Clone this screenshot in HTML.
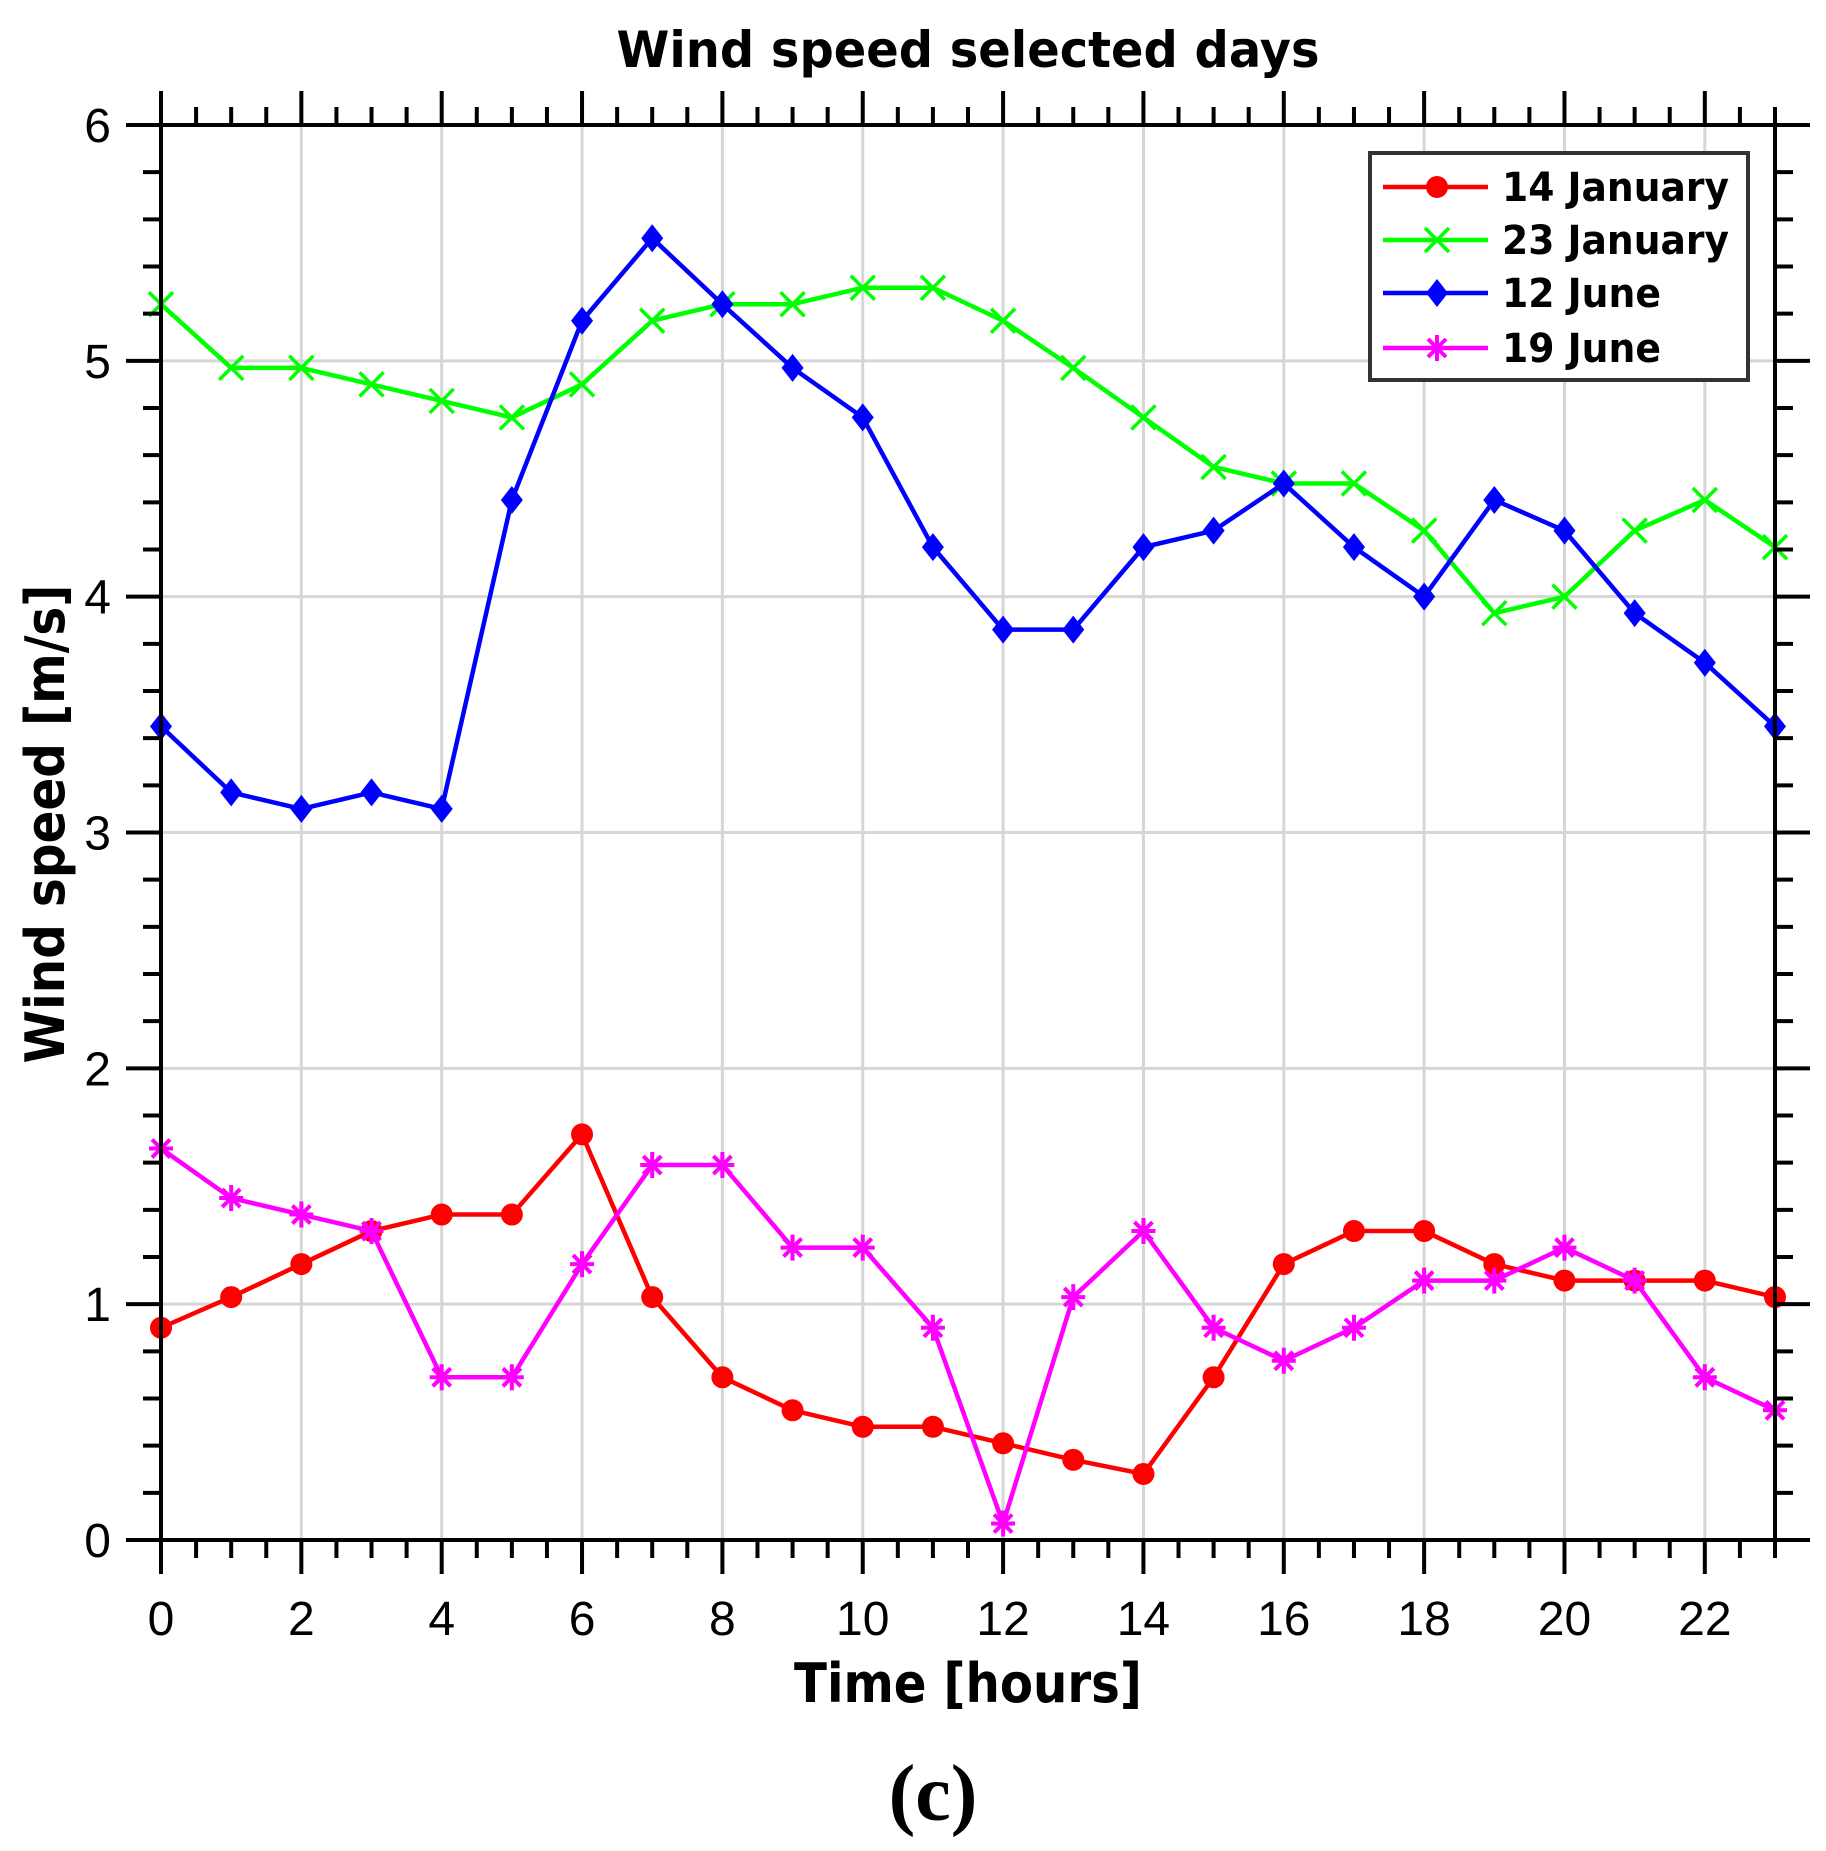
<!DOCTYPE html>
<html><head><meta charset="utf-8"><style>html,body{margin:0;padding:0;background:#fff}svg{display:block}</style></head>
<body>
<svg id="chart" xmlns="http://www.w3.org/2000/svg" width="1826" height="1851" viewBox="0 0 1826 1851">
<rect width="1826" height="1851" fill="#fff"/>
<g id="grid"></g>
<g id="series"></g>
<g id="axes"></g>
<text x="968" y="67" text-anchor="middle" font-family="DejaVu Sans, Liberation Sans, sans-serif" font-weight="bold" font-size="50" textLength="703" lengthAdjust="spacingAndGlyphs">Wind speed selected days</text>
<text x="968" y="1702" text-anchor="middle" font-family="DejaVu Sans, Liberation Sans, sans-serif" font-weight="bold" font-size="54" textLength="348" lengthAdjust="spacingAndGlyphs">Time [hours]</text>
<text transform="translate(64,824) rotate(-90)" text-anchor="middle" font-family="DejaVu Sans, Liberation Sans, sans-serif" font-weight="bold" font-size="54" textLength="479" lengthAdjust="spacingAndGlyphs">Wind speed [m/s]</text>
<text x="933" y="1820" text-anchor="middle" font-family="Liberation Serif, serif" font-weight="bold" font-size="80">(c)</text>
<g id="legend"></g>
</svg>
<script>
const hours = [0,1,2,3,4,5,6,7,8,9,10,11,12,13,14,15,16,17,18,19,20,21,22,23];
const jan14 = [0.90,1.03,1.17,1.31,1.38,1.38,1.72,1.03,0.69,0.55,0.48,0.48,0.41,0.34,0.28,0.69,1.17,1.31,1.31,1.17,1.10,1.10,1.10,1.03];
const jan23 = [5.24,4.97,4.97,4.90,4.83,4.76,4.90,5.17,5.24,5.24,5.31,5.31,5.17,4.97,4.76,4.55,4.48,4.48,4.28,3.93,4.00,4.28,4.41,4.21];
const jun12 = [3.45,3.17,3.10,3.17,3.10,4.41,5.17,5.52,5.24,4.97,4.76,4.21,3.86,3.86,4.21,4.28,4.48,4.21,4.00,4.41,4.28,3.93,3.72,3.45];
const jun19 = [1.66,1.45,1.38,1.31,0.69,0.69,1.17,1.59,1.59,1.24,1.24,0.90,0.07,1.03,1.31,0.90,0.76,0.90,1.10,1.10,1.24,1.10,0.69,0.55];
const seriesNames = ["14 January","23 January","12 June","19 June"];
const xTickLabels = ["0","2","4","6","8","10","12","14","16","18","20","22"];
const yTickLabels = ["0","1","2","3","4","5","6"];

const NS="http://www.w3.org/2000/svg";
const L=161,R=1775,T=125,B=1540,XMAX=23,YMAX=6;
const xs=v=>L+(R-L)*v/XMAX;
const ys=v=>B-(B-T)*v/YMAX;
function mk(tag,at,parent){const e=document.createElementNS(NS,tag);for(const k in at)e.setAttribute(k,at[k]);parent.appendChild(e);return e;}
const grid=document.getElementById('grid'),axes=document.getElementById('axes'),ser=document.getElementById('series'),leg=document.getElementById('legend');

xTickLabels.forEach(t=>{const x=xs(+t);
 const g=mk('line',{x1:x,x2:x,y1:T,y2:B,stroke:'#d6d6d6','stroke-width':3},grid);
 
 
 const lb=mk('text',{x:x,y:1635,'text-anchor':'middle','font-family':'Liberation Sans, sans-serif','font-size':48},axes);
 lb.textContent=t;
 
 
});
yTickLabels.forEach(t=>{const y=ys(+t);
 const g=mk('line',{x1:L,x2:R,y1:y,y2:y,stroke:'#d6d6d6','stroke-width':3},grid);
 
 
 const lb=mk('text',{x:111,y:y+17,'text-anchor':'end','font-family':'Liberation Sans, sans-serif','font-size':48},axes);
 lb.textContent=t;
 
 
});
let d='';
for(let i=0;i<=46;i++){const v=i/2,x=xs(v),major=(i%4===0),len=major?34:18;
 d+=`M${x} ${B}v${len}M${x} ${T}v${-len}`;}
for(let i=0;i<=30;i++){const v=i/5,y=ys(v),major=(i%5===0),len=major?35:18;
 d+=`M${L} ${y}h${-len}M${R} ${y}h${len}`;}
const tk=mk('path',{d:d,stroke:'#000','stroke-width':4,fill:'none'},axes);


const fr=mk('rect',{x:L,y:T,width:R-L,height:B-T,fill:'none',stroke:'#000','stroke-width':4},axes);



function marker(type,x,y,color,parent){
 let e;
 if(type==='circle') e=mk('circle',{cx:x,cy:y,r:11,fill:color},parent);
 else if(type==='diamond') e=mk('path',{d:`M${x} ${y-14}L${x+11} ${y}L${x} ${y+14}L${x-11} ${y}Z`,fill:color},parent);
 else if(type==='x') e=mk('path',{d:`M${x-12} ${y-12}L${x+12} ${y+12}M${x-12} ${y+12}L${x+12} ${y-12}`,stroke:color,'stroke-width':3.5},parent);
 else e=mk('path',{d:`M${x-12} ${y}H${x+12}M${x} ${y-13}V${y+13}M${x-9} ${y-9}L${x+9} ${y+9}M${x-9} ${y+9}L${x+9} ${y-9}`,stroke:color,'stroke-width':4},parent);
 return e;
}
const defs=[[jan14,'#ff0000','circle'],[jan23,'#00ff00','x'],[jun12,'#0000ff','diamond'],[jun19,'#ff00ff','star']];
const order=[1,2,0,3];
order.forEach(si=>{const [vals,c,m]=defs[si];
 const g=mk('g',{},ser);
 
 
 const pl=mk('polyline',{points:vals.map((v,i)=>xs(hours[i])+','+ys(v)).join(' '),fill:'none',stroke:c,'stroke-width':4.5,'stroke-linejoin':'round'},g);
 
 
 vals.forEach((v,i)=>{const mm=marker(m,xs(hours[i]),ys(v),c,g);
  
  });
});
const lb=mk('rect',{x:1370,y:153,width:378,height:227,fill:'#fff',stroke:'#333','stroke-width':4},leg);


const rowsY=[187,240,293,348],tl=[227,227,159,159];
defs.forEach(([vals,c,m],i)=>{const y=rowsY[i];
 const g=mk('g',{},leg);
 
 
 mk('line',{x1:1383,x2:1488,y1:y,y2:y,stroke:c,'stroke-width':4.5},g);
 marker(m,1437,y,c,g);
 const t=mk('text',{x:1502,y:y+14,'font-family':'DejaVu Sans, Liberation Sans, sans-serif','font-weight':'bold','font-size':40,textLength:tl[i],lengthAdjust:'spacingAndGlyphs'},g);
 t.textContent=seriesNames[i];
});
</script>
</body></html>
